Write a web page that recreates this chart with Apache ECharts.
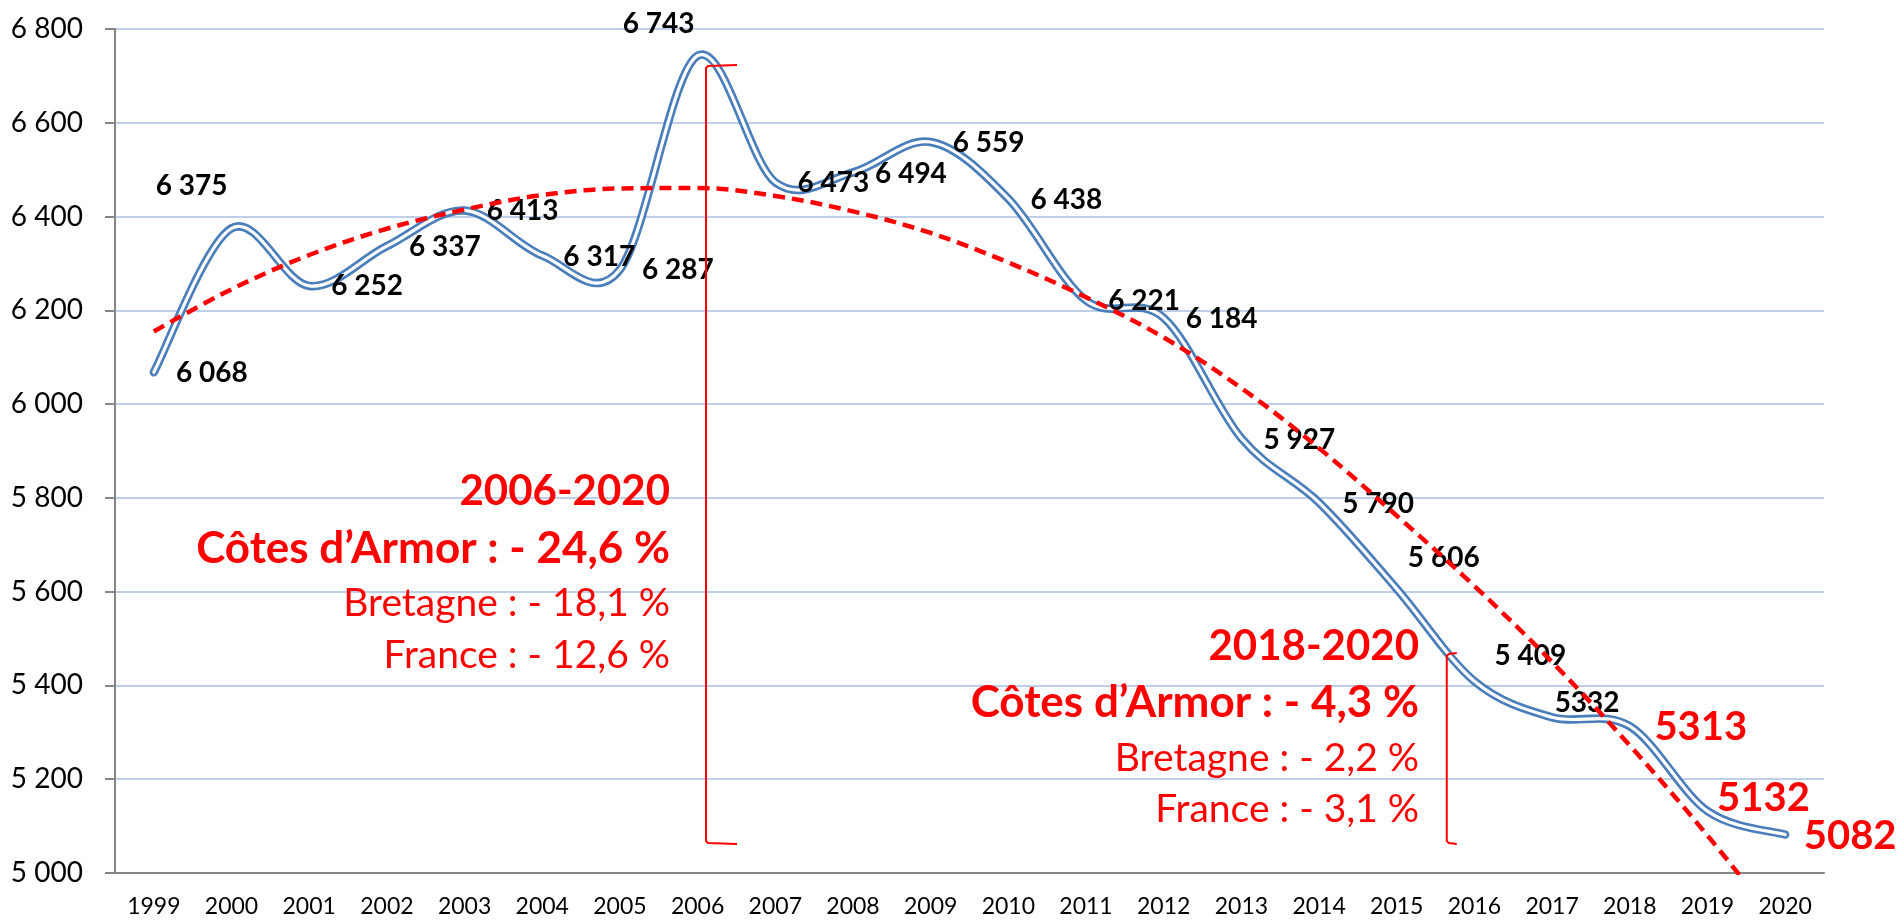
<!DOCTYPE html>
<html>
<head>
<meta charset="utf-8">
<script src="https://cdn.jsdelivr.net/npm/echarts@6/dist/echarts.min.js"></script>
<style>
  html, body { margin: 0; padding: 0; background: #fff; }
  #chart { width: 1904px; height: 920px; }
</style>
</head>
<body>
<div id="chart"></div>
<script>
// Naissances, Côtes d'Armor 1999-2020
const years = ['1999', '2000', '2001', '2002', '2003', '2004', '2005', '2006', '2007', '2008', '2009',
               '2010', '2011', '2012', '2013', '2014', '2015', '2016', '2017', '2018', '2019', '2020'];
const births = [6068, 6375, 6252, 6337, 6413, 6317, 6287, 6743, 6473, 6494, 6559,
                6438, 6221, 6184, 5927, 5790, 5606, 5409, 5332, 5313, 5132, 5082];
// courbe de tendance
const trend = [6155, 6245, 6318, 6374, 6415, 6446, 6460, 6461, 6444, 6411, 6365,
               6302, 6228, 6142, 6034, 5906, 5762, 5612, 5450, 5272, 5080, 4872];
const yMin = 5000, yMax = 6800, yStep = 200;

const notes2006 = ['2006-2020', 'Côtes d’Armor : - 24,6 %', 'Bretagne : - 18,1 %', 'France : - 12,6 %'];
const notes2018 = ['2018-2020', 'Côtes d’Armor : - 4,3 %', 'Bretagne : - 2,2 %', 'France : - 3,1 %'];

// décalage du centre des étiquettes par rapport au point (px)
const labelOffsets = [[58, 1], [-40, -42], [58, 0], [58, 1], [58, 1], [57, 1], [58, 0], [-39, -32],
                      [58, 1], [58, 1], [58, 1], [58, 1], [58, 0], [58, 1], [58, 2], [59, 1],
                      [47, -31], [56, -25], [35, -14], [71, 1], [56, -13], [65, 2]];

const FONT = 'Lato, "Open Sans", sans-serif';
const RED = '#ff0000';
const BLUE = '#4a7ebb';

const fmtSpace = v => String(v).replace(/\B(?=(\d{3})+(?!\d))/g, ' ');

const lineData = births.map((v, i) => {
    const last = i >= 19;
    return {
        value: v,
        label: {
            show: true,
            position: 'inside',
            formatter: i >= 18 ? String(v) : fmtSpace(v),
            fontFamily: FONT,
            fontWeight: 'bold',
            fontSize: last ? 40 : 28,
            color: last ? RED : '#000'
        }
    };
});

// courbe lissée façon Excel (Catmull-Rom) passant par les points
function smoothPath(pts) {
    let d = 'M' + pts[0][0] + ',' + pts[0][1];
    for (let i = 0; i < pts.length - 1; i++) {
        const p0 = pts[i - 1] || pts[i];
        const p1 = pts[i];
        const p2 = pts[i + 1];
        const p3 = pts[i + 2] || pts[i + 1];
        const c1x = p1[0] + (p2[0] - p0[0]) / 6, c1y = p1[1] + (p2[1] - p0[1]) / 6;
        const c2x = p2[0] - (p3[0] - p1[0]) / 6, c2y = p2[1] - (p3[1] - p1[1]) / 6;
        d += ' C' + c1x + ',' + c1y + ' ' + c2x + ',' + c2y + ' ' + p2[0] + ',' + p2[1];
    }
    return d;
}

const chart = echarts.init(document.getElementById('chart'), null, { renderer: 'canvas' });

chart.setOption({
    animation: false,
    grid: { left: 115, right: 80, top: 29, bottom: 47, containLabel: false },
    xAxis: {
        type: 'category',
        data: years,
        boundaryGap: true,
        axisLine: { lineStyle: { color: '#868686', width: 2 } },
        axisTick: { length: 9, lineStyle: { color: '#868686', width: 2 } },
        axisLabel: { color: '#000', fontFamily: FONT, fontSize: 23, margin: 22, interval: 0 },
        splitLine: { show: false }
    },
    yAxis: {
        type: 'value',
        min: yMin,
        max: yMax,
        interval: yStep,
        axisLine: { show: true, lineStyle: { color: '#868686', width: 2 } },
        axisTick: { show: true, length: 10, lineStyle: { color: '#868686', width: 2 } },
        axisLabel: { color: '#000', fontFamily: FONT, fontSize: 28, margin: 32, formatter: fmtSpace },
        splitLine: { lineStyle: { color: '#bfcfea', width: 2 } }
    },
    series: [
        {
            name: 'courbe',
            type: 'custom',
            data: births.map((v, i) => [i, v]),
            silent: true,
            z: 2,
            renderItem: (params, api) => {
                if (params.dataIndex !== 0) return null;
                const pts = births.map((v, i) => api.coord([i, v]));
                const d = smoothPath(pts);
                return {
                    type: 'group',
                    children: [
                        { type: 'path', shape: { pathData: d },
                          style: { fill: 'none', stroke: BLUE, lineWidth: 8.5, lineCap: 'round', lineJoin: 'round' } },
                        { type: 'path', shape: { pathData: d },
                          style: { fill: 'none', stroke: '#fff', lineWidth: 3.2, lineCap: 'round', lineJoin: 'round' } }
                    ]
                };
            }
        },
        {
            name: 'naissances',
            type: 'line',
            data: lineData,
            symbol: 'circle',
            symbolSize: 1,
            showSymbol: true,
            itemStyle: { color: 'rgba(0,0,0,0)' },
            lineStyle: { opacity: 0 },
            z: 3,
            labelLayout: p => ({
                dx: labelOffsets[p.dataIndex][0],
                dy: labelOffsets[p.dataIndex][1],
                hideOverlap: false
            })
        },
        {
            name: 'tendance',
            type: 'line',
            data: trend,
            smooth: 0.35,
            symbol: 'none',
            silent: true,
            z: 5,
            clip: true,
            lineStyle: { color: RED, width: 4.5, type: [12, 7] }
        }
    ]
});

// annotations: textes et accolades
function buildNotes() {
    const px = (idx, val) => chart.convertToPixel({ xAxisIndex: 0, yAxisIndex: 0 }, [idx, val]);
    const step = px(1, yMin)[0] - px(0, yMin)[0];
    const atX = idx => px(Math.floor(idx), yMin)[0] + (idx - Math.floor(idx)) * step;

    const brackets = [
        { idx: 7.108, top: 6721, bottom: 5064, tick: 31 },
        { idx: 16.644, top: 5467, bottom: 5064, tick: 10 }
    ];
    const elements = brackets.map(b => {
        const x = atX(b.idx);
        const yt = px(0, b.top)[1];
        const yb = px(0, b.bottom)[1];
        return {
            type: 'polyline',
            silent: true,
            z: 10,
            shape: { points: [[x + b.tick, yt - 1], [x + 2, yt], [x, yt + 2], [x, yb - 2], [x + 2, yb], [x + b.tick, yb + 1]] },
            style: { stroke: RED, lineWidth: 2, fill: null }
        };
    });

    const sizes = ['bold 42px ', 'bold 44px ', '39px ', '39px '];
    const blocks = [
        { lines: notes2006, right: 670, ys: [491, 549, 603, 655] },
        { lines: notes2018, right: 1419, ys: [646, 703, 758, 809] }
    ];
    blocks.forEach(bl => {
        bl.lines.forEach((t, k) => {
            elements.push({
                type: 'text',
                silent: true,
                z: 10,
                style: {
                    text: t,
                    x: bl.right,
                    y: bl.ys[k],
                    align: 'right',
                    verticalAlign: 'middle',
                    fill: RED,
                    font: sizes[k] + FONT
                }
            });
        });
    });
    chart.setOption({ graphic: elements });
}
buildNotes();
</script>
</body>
</html>
